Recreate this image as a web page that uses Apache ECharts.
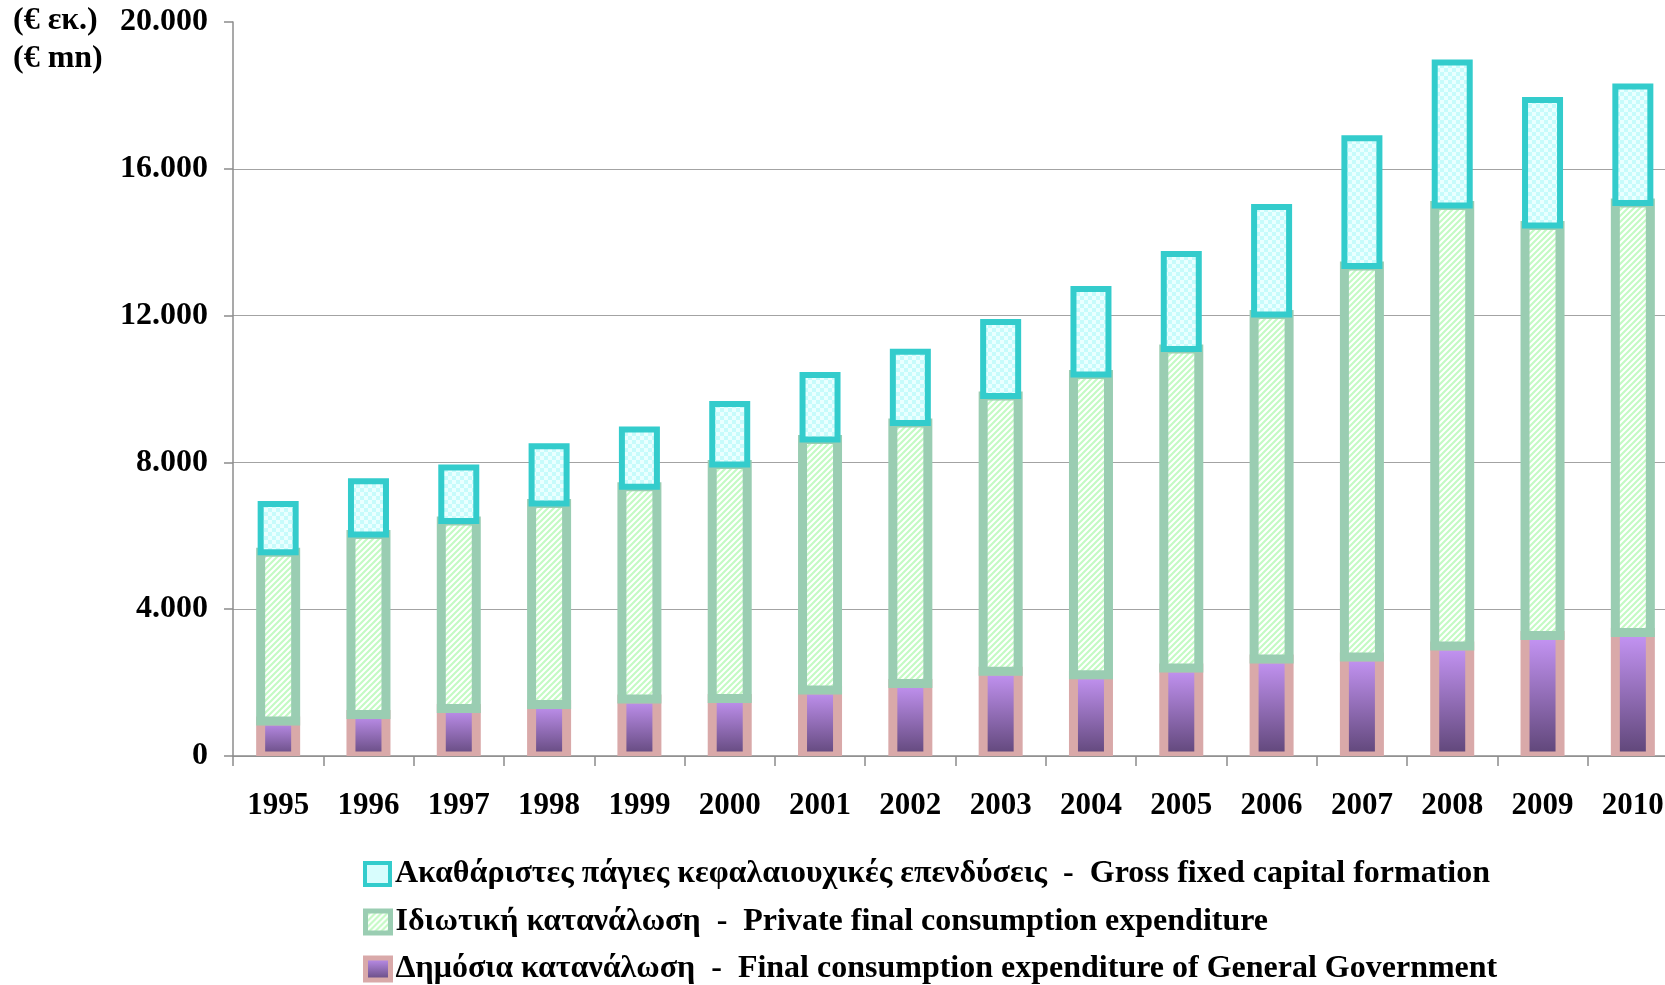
<!DOCTYPE html>
<html>
<head>
<meta charset="utf-8">
<script src="https://cdn.jsdelivr.net/npm/echarts@6/dist/echarts.min.js"></script>
<style>
html,body{margin:0;padding:0;background:#fff;}
#chart{width:1665px;height:985px;}
</style>
</head>
<body>
<div id="chart"></div>
<script>
// ---- data ----
var years = ['1995','1996','1997','1998','1999','2000','2001','2002','2003','2004','2005','2006','2007','2008','2009','2010'];
var publicConsumption = [954, 1131, 1294, 1400, 1553, 1567, 1798, 1975, 2308, 2215, 2398, 2643, 2698, 2997, 3283, 3365];
var privateConsumption = [4597, 4904, 5109, 5480, 5785, 6376, 6826, 7099, 7501, 8180, 8692, 9387, 10653, 12003, 11172, 11703];
var capitalFormation = [1314, 1453, 1461, 1561, 1558, 1648, 1757, 1942, 2017, 2330, 2588, 2929, 3483, 3896, 3420, 3175];
var yTicks = [0, 4000, 8000, 12000, 16000, 20000];
var seriesNames = [
  'Ακαθάριστες πάγιες κεφαλαιουχικές επενδύσεις  -  Gross fixed capital formation',
  'Ιδιωτική κατανάλωση  -  Private final consumption expenditure',
  'Δημόσια κατανάλωση  -  Final consumption expenditure of General Government'
];
var unitLines = ['(€ εκ.)', '(€ mn)'];

// ---- stacking (built from the arrays above) ----
var redData = [], greenData = [], cyanData = [];
for (var i = 0; i < years.length; i++) {
  var a = publicConsumption[i];
  var b = a + privateConsumption[i];
  var c = b + capitalFormation[i];
  redData.push([i, 0, a]);
  greenData.push([i, a, b]);
  cyanData.push([i, b, c]);
}

// ---- patterns (styling only) ----
function stripeTile() {
  var cv = document.createElement('canvas'); cv.width = 6; cv.height = 6;
  var g = cv.getContext('2d');
  g.fillStyle = '#ffffff'; g.fillRect(0, 0, 6, 6);
  g.strokeStyle = '#c4fac4'; g.lineWidth = 2.2;
  g.beginPath();
  g.moveTo(-1, 7); g.lineTo(7, -1);
  g.moveTo(-4, 4); g.lineTo(4, -4);
  g.moveTo(2, 10); g.lineTo(10, 2);
  g.stroke();
  return cv;
}
function checkTile() {
  var cv = document.createElement('canvas'); cv.width = 8; cv.height = 8;
  var g = cv.getContext('2d');
  g.fillStyle = '#eaffff'; g.fillRect(0, 0, 8, 8);
  g.fillStyle = '#c6fbfb'; g.fillRect(0, 0, 4, 4); g.fillRect(4, 4, 4, 4);
  return cv;
}
var stripePattern = { image: stripeTile(), repeat: 'repeat' };
var checkPattern = { image: checkTile(), repeat: 'repeat' };
function purpleGrad() {
  return new echarts.graphic.LinearGradient(0, 0, 0, 1, [
    { offset: 0, color: '#c998fa' }, { offset: 1, color: '#5a4272' }
  ]);
}

var FONT = "'Liberation Serif', 'Times New Roman', serif";
function fmt(v) { return String(v).replace(/\B(?=(\d{3})+(?!\d))/g, '.'); }

var BAR_W = 35;
function makeRender(lw, fill, stroke) {
  return function (params, api) {
    var idx = api.value(0);
    var p0 = api.coord([idx, api.value(1)]);
    var p1 = api.coord([idx, api.value(2)]);
    return {
      type: 'rect',
      shape: { x: p0[0] - BAR_W / 2, y: p1[1], width: BAR_W, height: p0[1] - p1[1] },
      style: { fill: typeof fill === 'function' ? fill() : fill, stroke: stroke, lineWidth: lw }
    };
  };
}

var legendTops = [858, 906, 953];
function legendFor(k, itemStyle) {
  return {
    orient: 'horizontal', left: 363, top: legendTops[k], padding: 0,
    itemWidth: 25, itemHeight: 22, icon: 'rect',
    textStyle: { fontFamily: FONT, fontWeight: 'bold', fontSize: 32, color: '#000' },
    data: [{ name: seriesNames[k], itemStyle: itemStyle }]
  };
}

var chart = echarts.init(document.getElementById('chart'), null, { renderer: 'canvas' });
chart.setOption({
  backgroundColor: '#ffffff',
  animation: false,
  grid: { left: 233, top: 22, width: 1445, height: 734, containLabel: false, outerBoundsMode: 'none' },
  graphic: [
    { type: 'text', left: 13, top: 5, style: { text: unitLines[0], font: 'bold 32px ' + FONT, fill: '#000' } },
    { type: 'text', left: 13, top: 43, style: { text: unitLines[1], font: 'bold 32px ' + FONT, fill: '#000' } }
  ],
  legend: [
    legendFor(0, { color: '#d8fdfd', borderColor: '#33cccc', borderWidth: 4 }),
    legendFor(1, { color: stripePattern, borderColor: '#9acdb2', borderWidth: 5 }),
    legendFor(2, { color: purpleGrad(), borderColor: '#d9a9a9', borderWidth: 5 })
  ],
  xAxis: {
    type: 'category',
    data: years,
    boundaryGap: true,
    axisLine: { show: true, lineStyle: { color: '#8c8c8c', width: 1.5 } },
    axisTick: { show: true, length: 10, lineStyle: { color: '#8c8c8c', width: 1.5 } },
    axisLabel: { margin: 34, fontFamily: FONT, fontWeight: 'bold', fontSize: 31, color: '#000', interval: 0 }
  },
  yAxis: {
    type: 'value',
    min: yTicks[0],
    max: yTicks[yTicks.length - 1],
    interval: yTicks[1] - yTicks[0],
    axisLine: { show: true, lineStyle: { color: '#8c8c8c', width: 1.5 } },
    axisTick: { show: true, length: 9, lineStyle: { color: '#8c8c8c', width: 1.5 } },
    axisLabel: { margin: 25, fontFamily: FONT, fontWeight: 'bold', fontSize: 32, color: '#000', formatter: fmt },
    splitLine: { show: true, showMaxLine: false, lineStyle: { color: '#a3a3a3', width: 1.2 } }
  },
  series: [
    {
      name: seriesNames[2], type: 'custom', clip: true,
      encode: { x: 0, y: [1, 2] },
      itemStyle: { color: '#a37fd0' },
      renderItem: makeRender(9, purpleGrad, '#d9a9a9'),
      data: redData
    },
    {
      name: seriesNames[1], type: 'custom', clip: true,
      encode: { x: 0, y: [1, 2] },
      itemStyle: { color: '#9acdb2' },
      renderItem: makeRender(9, stripePattern, '#9acdb2'),
      data: greenData
    },
    {
      name: seriesNames[0], type: 'custom', clip: true,
      encode: { x: 0, y: [1, 2] },
      itemStyle: { color: '#33cccc' },
      renderItem: makeRender(6, checkPattern, '#33cccc'),
      data: cyanData
    }
  ]
});
</script>
</body>
</html>
